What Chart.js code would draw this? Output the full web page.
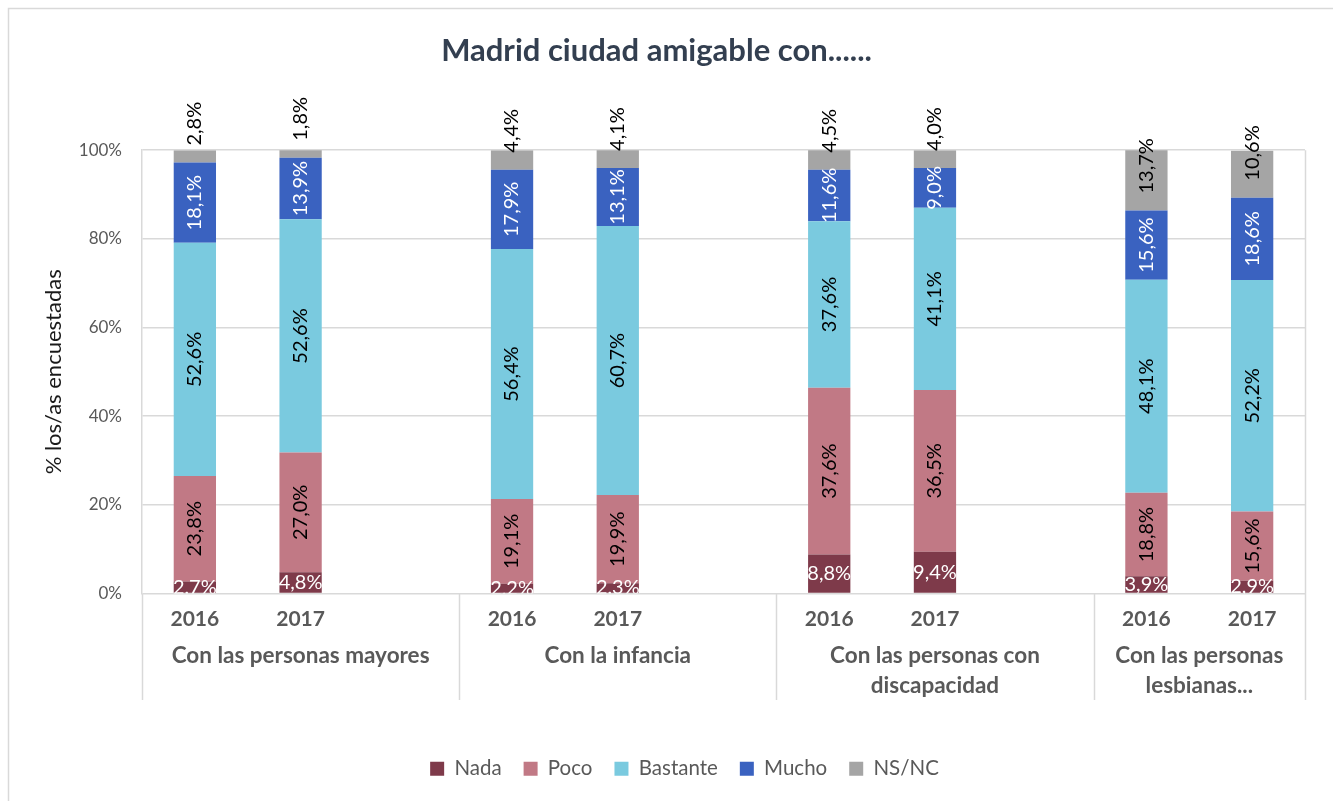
<!DOCTYPE html>
<html lang="es">
<head>
<meta charset="utf-8">
<title>Madrid ciudad amigable con......</title>
<script src="https://cdn.jsdelivr.net/npm/chart.js@4.4.1/dist/chart.umd.min.js"></script>
<style>
  html, body { margin: 0; padding: 0; background: #fff; }
  #wrap { position: relative; width: 1333px; height: 801px; }
</style>
</head>
<body>
<div id="wrap"><canvas id="grafico" width="1333" height="801"></canvas></div>
<script>
// años por grupo; la columna vacía separa los grupos
var anios = ['2016', '2017', '', '2016', '2017', '', '2016', '2017', '', '2016', '2017'];
var grupos = [
    ['Con las personas mayores'],
    ['Con la infancia'],
    ['Con las personas con', 'discapacidad'],
    ['Con las personas', 'lesbianas...']
];

var nada     = [2.7, 4.8, null, 2.2, 2.3, null, 8.8, 9.4, null, 3.9, 2.9];
var poco     = [23.8, 27.0, null, 19.1, 19.9, null, 37.6, 36.5, null, 18.8, 15.6];
var bastante = [52.6, 52.6, null, 56.4, 60.7, null, 37.6, 41.1, null, 48.1, 52.2];
var mucho    = [18.1, 13.9, null, 17.9, 13.1, null, 11.6, 9.0, null, 15.6, 18.6];
var nsnc     = [2.8, 1.8, null, 4.4, 4.1, null, 4.5, 4.0, null, 13.7, 10.6];

var series = ['Nada', 'Poco', 'Bastante', 'Mucho', 'NS/NC'];
var colores = ['#7e3a4a', '#c17985', '#7acadf', '#3a62c0', '#a5a5a5'];
var colorEtiqueta = ['#ffffff', '#000000', '#000000', '#ffffff', '#000000'];

var FUENTE = 'Lato, "Open Sans", sans-serif';

function fmt(v) {
    return v.toFixed(1).replace('.', ',') + '%';
}

// etiquetas de valor dentro de cada segmento
var etiquetas = {
    id: 'etiquetas',
    afterDatasetsDraw: function (chart) {
        var ctx = chart.ctx;
        var area = chart.chartArea;
        ctx.save();
        ctx.font = '20px ' + FUENTE;
        chart.data.datasets.forEach(function (ds, i) {
            var meta = chart.getDatasetMeta(i);
            meta.data.forEach(function (bar, j) {
                var v = ds.data[j];
                if (v === null || v === undefined) return;
                var p = bar.getProps(['x', 'y', 'base'], true);
                var txt = fmt(v);
                ctx.fillStyle = colorEtiqueta[i];
                if (i === 0) {
                    // Nada: horizontal, recortada en el eje
                    ctx.save();
                    ctx.beginPath();
                    ctx.rect(area.left, area.top, area.right - area.left, area.bottom - area.top);
                    ctx.clip();
                    ctx.textAlign = 'center';
                    ctx.textBaseline = 'middle';
                    ctx.fillText(txt, p.x, (p.y + p.base) / 2);
                    ctx.restore();
                } else if (i === 4) {
                    // NS/NC: arranca desde la base del segmento hacia arriba
                    ctx.save();
                    ctx.translate(p.x, p.base - 17);
                    ctx.rotate(-Math.PI / 2);
                    ctx.textAlign = 'left';
                    ctx.textBaseline = 'middle';
                    ctx.fillText(txt, 0, 0);
                    ctx.restore();
                } else {
                    ctx.save();
                    ctx.translate(p.x, (p.y + p.base) / 2);
                    ctx.rotate(-Math.PI / 2);
                    ctx.textAlign = 'center';
                    ctx.textBaseline = 'middle';
                    ctx.fillText(txt, 0, 0);
                    ctx.restore();
                }
            });
        });
        ctx.restore();
    }
};

// separadores y nombres de grupo bajo el eje X, más el marco
var ejeGrupos = {
    id: 'ejeGrupos',
    afterLayout: function (chart) {
        // leyenda algo desplazada a la derecha
        chart.legend.left += 28;
        chart.legend.right += 28;
    },
    beforeDraw: function (chart) {
        var ctx = chart.ctx;
        ctx.save();
        ctx.strokeStyle = '#d9d9d9';
        ctx.lineWidth = 1.5;
        ctx.beginPath();
        ctx.moveTo(8.5, 801);
        ctx.lineTo(8.5, 8.5);
        ctx.lineTo(1333, 8.5);
        ctx.stroke();
        ctx.restore();
    },
    afterDraw: function (chart) {
        var ctx = chart.ctx;
        var x = chart.scales.x;
        var area = chart.chartArea;
        ctx.save();
        ctx.strokeStyle = '#d9d9d9';
        ctx.lineWidth = 1.5;
        var cortes = [-0.5, 2.5, 5.5, 8.5, 10.5];
        cortes.forEach(function (c) {
            var px = Math.round(x.getPixelForValue(c)) + 0.5;
            ctx.beginPath();
            ctx.moveTo(px, c === 10.5 ? area.top : area.bottom);
            ctx.lineTo(px, 700);
            ctx.stroke();
        });
        ctx.fillStyle = '#595959';
        ctx.font = 'bold 22.5px ' + FUENTE;
        ctx.textAlign = 'center';
        ctx.textBaseline = 'middle';
        grupos.forEach(function (lineas, g) {
            var a = x.getPixelForValue(cortes[g]);
            var b = x.getPixelForValue(cortes[g + 1]);
            lineas.forEach(function (l, k) {
                ctx.fillText(l, (a + b) / 2, 656 + k * 30);
            });
        });
        ctx.restore();
    }
};

var datasets = [nada, poco, bastante, mucho, nsnc].map(function (d, i) {
    return {
        label: series[i],
        data: d,
        backgroundColor: colores[i],
        borderWidth: 0,
        barPercentage: 0.4,
        categoryPercentage: 1
    };
});

var ctx = document.getElementById('grafico').getContext('2d');
var grafico = new Chart(ctx, {
    type: 'bar',
    data: { labels: anios, datasets: datasets },
    plugins: [etiquetas, ejeGrupos],
    options: {
        responsive: false,
        animation: false,
        layout: { padding: { left: 8, right: 28, top: 0, bottom: 12 } },
        plugins: {
            title: {
                display: true,
                text: 'Madrid ciudad amigable con......',
                color: '#333f50',
                font: { family: FUENTE, size: 31, weight: 'bold' },
                padding: { top: 32, bottom: 81 }
            },
            legend: {
                position: 'bottom',
                labels: {
                    color: '#595959',
                    font: { family: FUENTE, size: 20.5 },
                    boxWidth: 14,
                    boxHeight: 14,
                    padding: 22
                }
            },
            tooltip: { enabled: false }
        },
        scales: {
            x: {
                stacked: true,
                grid: { display: false },
                border: { display: false },
                ticks: {
                    color: '#595959',
                    font: { family: FUENTE, size: 21, weight: 'bold' },
                    padding: 5,
                    maxRotation: 0,
                    autoSkip: false
                },
                afterFit: function (s) { s.height = 143; }
            },
            y: {
                stacked: true,
                min: 0,
                max: 100,
                grid: { color: '#d9d9d9', lineWidth: 1.5, drawTicks: false },
                border: { display: true, color: '#d9d9d9', width: 1.5 },
                ticks: {
                    stepSize: 20,
                    color: '#595959',
                    font: { family: FUENTE, size: 17 },
                    padding: 20,
                    callback: function (v) { return v + '%'; }
                },
                title: {
                    display: true,
                    text: '% los/as encuestadas',
                    color: '#1a1a1a',
                    font: { family: FUENTE, size: 22 },
                    padding: { top: 33, bottom: 0 }
                },
                afterFit: function (s) { s.width = 134; }
            }
        }
    }
});
</script>
</body>
</html>
